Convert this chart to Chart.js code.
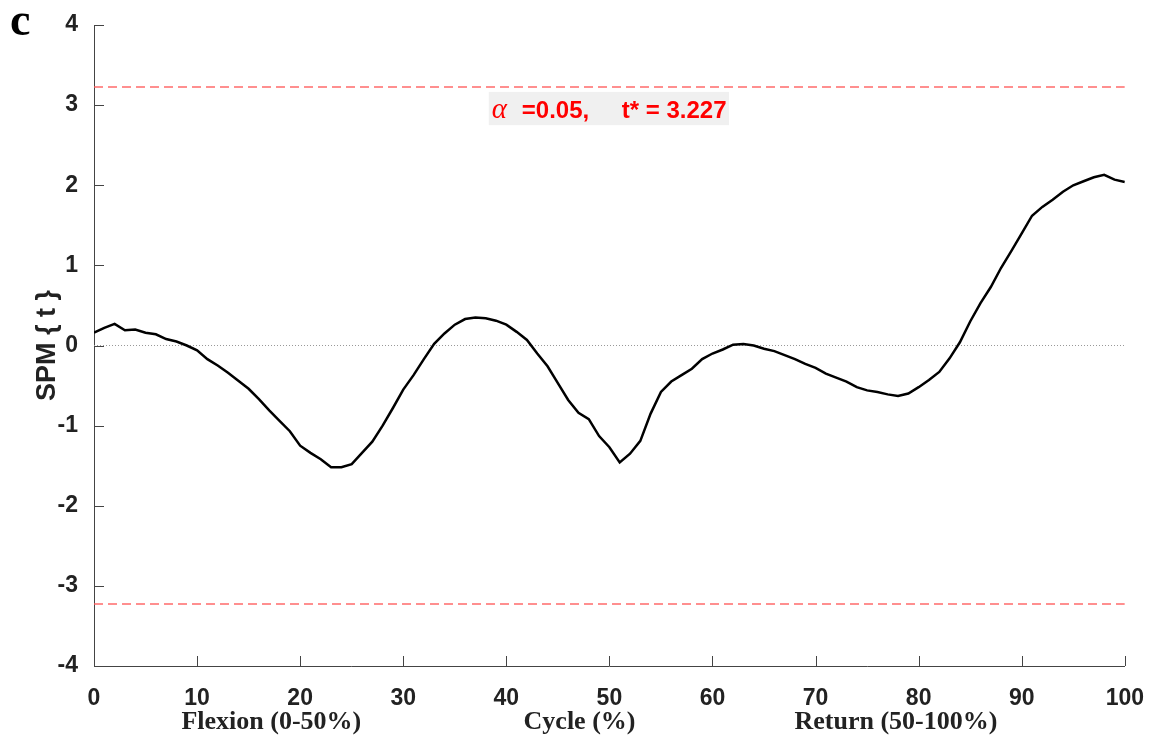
<!DOCTYPE html>
<html>
<head>
<meta charset="utf-8">
<script src="https://cdn.jsdelivr.net/npm/chart.js@4.4.1/dist/chart.umd.min.js"></script>
<style>
  html, body { margin: 0; padding: 0; background: #fff; }
  #spm { display: block; }
</style>
</head>
<body>
<canvas id="spm" width="1155" height="737"></canvas>
<script>
// cycle (%) sample points
const cycle = [0, 1, 2, 3, 4, 5, 6, 7, 8, 9, 10, 11, 12, 13, 14, 15, 16, 17, 18, 19,
    20, 21, 22, 23, 24, 25, 26, 27, 28, 29, 30, 31, 32, 33, 34, 35, 36, 37, 38, 39,
    40, 41, 42, 43, 44, 45, 46, 47, 48, 49, 50, 51, 52, 53, 54, 55, 56, 57, 58, 59,
    60, 61, 62, 63, 64, 65, 66, 67, 68, 69, 70, 71, 72, 73, 74, 75, 76, 77, 78, 79,
    80, 81, 82, 83, 84, 85, 86, 87, 88, 89, 90, 91, 92, 93, 94, 95, 96, 97, 98, 99, 100]

// SPM{t} trajectory
const tValues = [0.16, 0.22, 0.27, 0.19, 0.20, 0.16, 0.14, 0.08, 0.05, 0.00,
    -0.06, -0.17, -0.25, -0.34, -0.44, -0.54, -0.67, -0.81, -0.94, -1.07,
    -1.25, -1.34, -1.42, -1.52, -1.52, -1.48, -1.34, -1.20, -1.00, -0.78,
    -0.55, -0.37, -0.17, 0.02, 0.15, 0.26, 0.33, 0.35, 0.34, 0.31,
    0.26, 0.17, 0.07, -0.10, -0.26, -0.47, -0.68, -0.84, -0.92, -1.13,
    -1.27, -1.46, -1.35, -1.19, -0.85, -0.58, -0.45, -0.37, -0.29, -0.17,
    -0.10, -0.05, 0.01, 0.02, 0.00, -0.04, -0.07, -0.12, -0.17, -0.23,
    -0.28, -0.35, -0.40, -0.45, -0.52, -0.56, -0.58, -0.61, -0.63, -0.60,
    -0.52, -0.43, -0.33, -0.16, 0.04, 0.30, 0.53, 0.73, 0.97, 1.18,
    1.40, 1.62, 1.73, 1.82, 1.92, 2.00, 2.05, 2.10, 2.13, 2.07, 2.04]

const tStar = 3.227
const alpha = 0.05
const xTicks = [0, 10, 20, 30, 40, 50, 60, 70, 80, 90, 100]
const yTicks = [-4, -3, -2, -1, 0, 1, 2, 3, 4]
const phaseLabels = ['Flexion (0-50%)', 'Cycle (%)', 'Return (50-100%)']

const sans = '"Liberation Sans", Arial, Helvetica, sans-serif'
const serif = '"Liberation Serif", "Times New Roman", serif'

const curve = cycle.map((c, i) => ({ x: c, y: tValues[i] }))
const span = v => [{ x: cycle[0], y: v }, { x: cycle[cycle.length - 1], y: v }]

// inward tick marks, threshold box, phase labels and panel letter
const extras = {
    id: 'extras',
    afterDraw(chart) {
        const ctx = chart.ctx
        const xs = chart.scales.x
        const ys = chart.scales.y
        const area = chart.chartArea
        ctx.save()

        ctx.strokeStyle = '#444'
        ctx.lineWidth = 1
        ctx.beginPath()
        yTicks.forEach(v => {
            const py = Math.round(ys.getPixelForValue(v)) + 0.5
            ctx.moveTo(area.left, py)
            ctx.lineTo(area.left + 10, py)
        })
        xTicks.forEach(v => {
            const px = Math.round(xs.getPixelForValue(v)) + 0.5
            ctx.moveTo(px, area.bottom)
            ctx.lineTo(px, area.bottom - 10)
        })
        ctx.stroke()

        // alpha / t* box
        const bx = xs.getPixelForValue(38.3)
        const bx2 = xs.getPixelForValue(61.6)
        const by = ys.getPixelForValue(3.165)
        const by2 = ys.getPixelForValue(2.75)
        ctx.fillStyle = '#f0f0f0'
        ctx.fillRect(bx, by, bx2 - bx, by2 - by)
        ctx.fillStyle = '#ff0000'
        ctx.textBaseline = 'alphabetic'
        ctx.textAlign = 'left'
        const base = by + 26
        ctx.font = 'italic 29px ' + serif
        ctx.fillText('\u03b1', bx + 3, base)
        ctx.font = 'bold 24px ' + sans
        ctx.fillText('=' + alpha.toFixed(2) + ',', bx + 33, base)
        ctx.fillText('t* = ' + tStar.toFixed(3), bx + 133, base)

        // phase labels under the axis
        ctx.fillStyle = '#222'
        ctx.font = 'bold 26px ' + serif
        ctx.textAlign = 'center'
        const anchors = [17.2, 47.1, 77.8]
        phaseLabels.forEach((t, i) => {
            ctx.fillText(t, xs.getPixelForValue(anchors[i]), 729)
        })

        ctx.font = 'bold 46px ' + serif
        ctx.textAlign = 'left'
        ctx.fillStyle = '#000'
        ctx.fillText('c', 10, 35)
        ctx.restore()
    }
}

const ctx = document.getElementById('spm')
const spmChart = new Chart(ctx, {
    type: 'line',
    data: {
        datasets: [{
            label: 'SPM{t}',
            data: curve,
            borderColor: '#000',
            borderWidth: 2.5,
            pointRadius: 0,
            tension: 0
        }, {
            label: 'zero',
            data: span(0),
            borderColor: '#999',
            borderWidth: 1,
            borderDash: [1, 2],
            pointRadius: 0
        }, {
            label: 'upper',
            data: span(tStar),
            borderColor: 'rgba(255, 90, 90, 0.9)',
            borderWidth: 1.5,
            borderDash: [9, 5],
            pointRadius: 0
        }, {
            label: 'lower',
            data: span(-tStar),
            borderColor: 'rgba(255, 90, 90, 0.9)',
            borderWidth: 1.5,
            borderDash: [9, 5],
            pointRadius: 0
        }]
    },
    options: {
        responsive: false,
        animation: false,
        layout: {
            padding: { top: 25, right: 29, bottom: 0, left: 0 }
        },
        plugins: {
            legend: { display: false },
            tooltip: { enabled: false }
        },
        scales: {
            x: {
                type: 'linear',
                min: 0,
                max: 100,
                afterFit: s => { s.height = 71 },
                afterBuildTicks: s => { s.ticks = xTicks.map(v => ({ value: v })) },
                grid: { display: false },
                border: { display: true, color: '#444', width: 1 },
                ticks: {
                    padding: 11,
                    color: '#222',
                    maxRotation: 0,
                    font: { family: sans, size: 23, weight: 'bold' }
                }
            },
            y: {
                min: -4,
                max: 4,
                afterFit: s => { s.width = 94 },
                afterBuildTicks: s => { s.ticks = yTicks.map(v => ({ value: v })) },
                grid: { display: false },
                border: { display: true, color: '#444', width: 1 },
                ticks: {
                    padding: 8,
                    color: '#222',
                    font: { family: sans, size: 23, weight: 'bold' }
                },
                title: {
                    display: true,
                    text: 'SPM { t }',
                    color: '#222',
                    padding: { top: 34, bottom: 0 },
                    font: { family: sans, size: 27, weight: 'bold', lineHeight: 1 }
                }
            }
        }
    },
    plugins: [extras]
})
</script>
</body>
</html>
